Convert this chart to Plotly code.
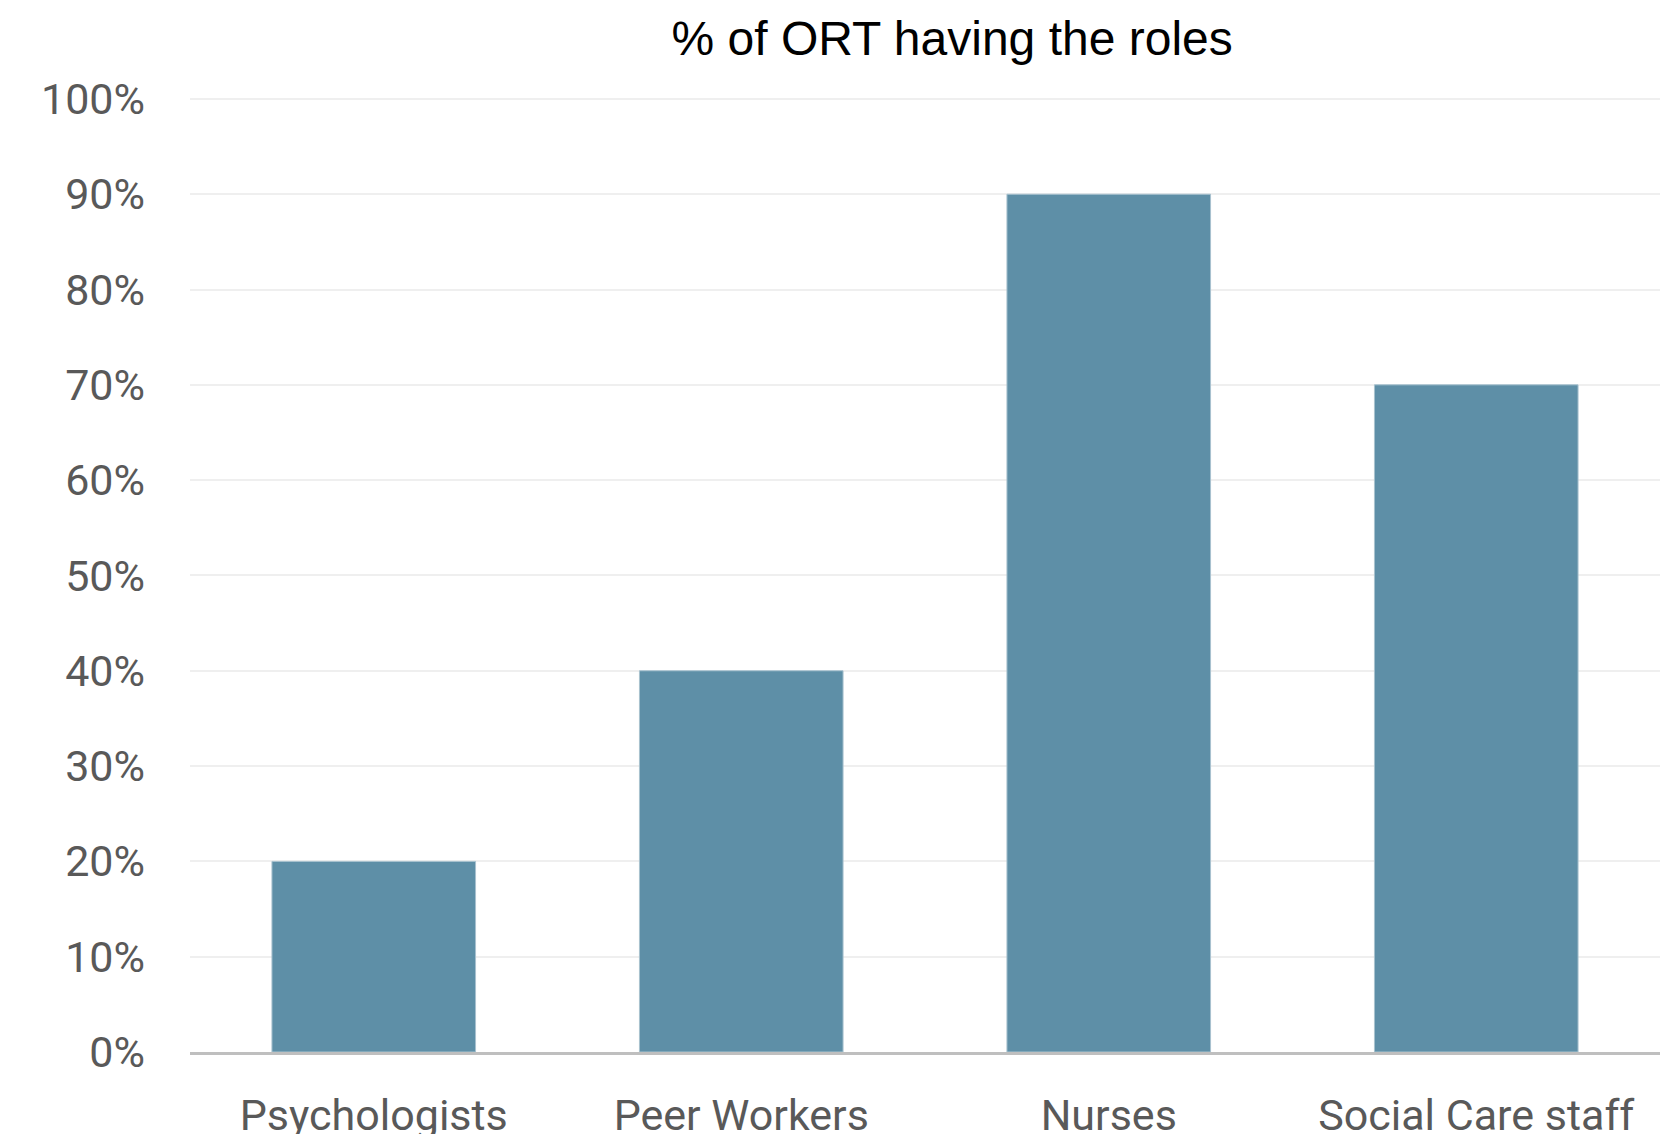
import plotly.graph_objects as go

# data
roles = ["Psychologists", "Peer Workers", "Nurses", "Social Care staff"]
share = [0.20, 0.40, 0.90, 0.70]
y_ticks = [0, 0.1, 0.2, 0.3, 0.4, 0.5, 0.6, 0.7, 0.8, 0.9, 1.0]
y_labels = ["0%", "10%", "20%", "30%", "40%", "50%", "60%", "70%", "80%", "90%", "100%"]

BAR_COLOR = "#5e8fa7"
TICK_TEXT = "#595959"
GRID = "#efefef"
AXIS = "#bfbfbf"
TICK_FONT = "Roboto, Liberation Sans, sans-serif"

fig = go.Figure()

fig.add_trace(go.Bar(
    x=roles, y=share,
    marker=dict(color=BAR_COLOR, line=dict(color="#a8c2cf", width=1)),
    showlegend=False,
))

fig.update_layout(
    width=1677, height=1134,
    paper_bgcolor="white",
    plot_bgcolor="white",
    bargap=0.446,
    margin=dict(l=182, r=25, t=89, b=90),
    title=dict(
        text="% of ORT having the roles",
        font=dict(family="Liberation Sans, Arial, sans-serif", size=48, color="black"),
        x=0.563, xanchor="center",
        y=1 - 30 / 1134, yanchor="middle",
        automargin=False,
    ),
    xaxis=dict(
        showgrid=False,
        showline=True, linecolor=AXIS, linewidth=2.5,
        ticks="",
        tickfont=dict(family=TICK_FONT, size=43, color=TICK_TEXT),
        ticklabelstandoff=24,
        automargin=False,
    ),
    yaxis=dict(
        range=[0, 1.002],
        tickvals=y_ticks, ticktext=y_labels,
        showgrid=True, gridcolor=GRID, gridwidth=1.5,
        zeroline=False, showline=False,
        ticks="",
        tickfont=dict(family=TICK_FONT, size=43, color=TICK_TEXT),
        ticklabelstandoff=44,
        automargin=False,
    ),
)

fig.write_html("out.html")
